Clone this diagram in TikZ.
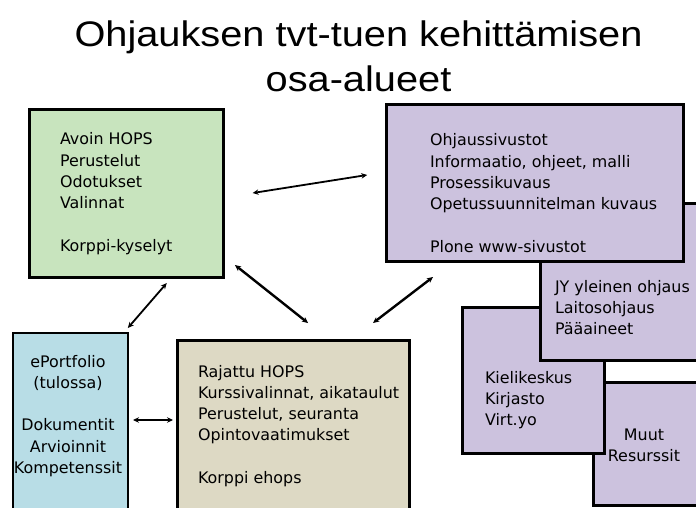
\documentclass[tikz,border=0pt]{standalone}
\usepackage{fontspec}
\usepackage{graphicx}
\setmainfont{DejaVu Sans}
\newfontfamily\titlefont{Liberation Sans}
\usetikzlibrary{arrows.meta}
\definecolor{boxgreen}{RGB}{200,228,190}
\definecolor{boxpurple}{RGB}{204,194,222}
\definecolor{boxblue}{RGB}{184,221,230}
\definecolor{boxbeige}{RGB}{221,217,196}
\begin{document}
\begin{tikzpicture}[x=1pt,y=-1pt,
  box/.style={draw=black, line width=3pt, inner sep=0pt, outer sep=0pt, anchor=north west},
  txt/.style={inner sep=0pt, outer sep=0pt, font=\fontsize{15.9}{21.3}\selectfont},
  link/.style={{Stealth[length=6pt,width=5.5pt]}-{Stealth[length=6pt,width=5.5pt]}, line width=1.8pt}]
\fill[white] (0,0) rectangle (696,508);
\clip (0,0) rectangle (696,508);
% title
\node[inner sep=0pt, anchor=base] (title) at (358.5,47)
  {\titlefont\fontsize{35.5}{45}\selectfont\scalebox{1.12}[1]{\begin{tabular}[t]{@{}c@{}}Ohjauksen tvt-tuen kehittämisen\\osa-alueet\end{tabular}}};
% purple stack (bottom to top)
\node[box, fill=boxpurple, minimum width=127pt, minimum height=123pt] (muut) at (593,382) {};
\node[txt, anchor=base] (muuttext) at (644,440) {\begin{tabular}[t]{@{}c@{}}Muut\\Resurssit\end{tabular}};
\node[box, fill=boxpurple, minimum width=142pt, minimum height=146pt] (kieli) at (462,307) {};
\node[txt, anchor=base west] (kielitext) at (485,383) {\begin{tabular}[t]{@{}l@{}}Kielikeskus\\Kirjasto\\Virt.yo\end{tabular}};
\node[box, fill=boxpurple, minimum width=180pt, minimum height=157pt] (jy) at (540,203) {};
\node[txt, anchor=base west] (jytext) at (555,292) {\begin{tabular}[t]{@{}l@{}}JY yleinen ohjaus\\Laitosohjaus\\Pääaineet\end{tabular}};
\node[box, fill=boxpurple, minimum width=297pt, minimum height=156pt] (ohj) at (386,105) {};
\node[txt, anchor=base west] (ohjtext) at (430,146) {\begin{tabular}[t]{@{}l@{}}Ohjaussivustot\\Informaatio, ohjeet, malli\\Prosessikuvaus\\Opetussuunnitelman kuvaus\\ \\Plone www-sivustot\end{tabular}};
% green
\node[box, fill=boxgreen, minimum width=194pt, minimum height=167pt] (avoin) at (29,110) {};
\node[txt, anchor=base west] (avointext) at (60,145) {\begin{tabular}[t]{@{}l@{}}Avoin HOPS\\Perustelut\\Odotukset\\Valinnat\\ \\Korppi-kyselyt\end{tabular}};
% blue
\node[box, line width=1.6pt, fill=boxblue, minimum width=115pt, minimum height=187pt] (eport) at (13,333) {};
\node[txt, anchor=base] (eporttext) at (68,367) {\begin{tabular}[t]{@{}c@{}}ePortfolio\\(tulossa)\\ \\Dokumentit\\Arvioinnit\\Kompetenssit\end{tabular}};
% beige
\node[box, fill=boxbeige, minimum width=232pt, minimum height=180pt] (rajattu) at (177,340) {};
\node[txt, anchor=base west] (rajattutext) at (198,377) {\begin{tabular}[t]{@{}l@{}}Rajattu HOPS\\Kurssivalinnat, aikataulut\\Perustelut, seuranta\\Opintovaatimukset\\ \\Korppi ehops\end{tabular}};
% connectors
\draw[link, shorten <=30pt, shorten >=19pt] ([yshift=-4.2pt]avoin.east) -- ([yshift=11pt]ohj.west);
\draw[link, shorten <=8pt, shorten >=6.6pt] ([xshift=46pt]avoin.south) -- ([xshift=53pt]eport.north);
\draw[link, line width=2.4pt, shorten <=15.3pt, shorten >=27.3pt] ([yshift=-62pt]avoin.east) -- ([xshift=36.4pt]rajattu.north);
\draw[link, line width=2.4pt, shorten <=26.3pt, shorten >=28pt] ([xshift=-80.6pt]ohj.south) -- ([xshift=57.8pt]rajattu.north);
\draw[link, shorten <=5pt, shorten >=4pt] ([yshift=6.5pt]eport.east) -- ([yshift=10pt]rajattu.west);
\end{tikzpicture}
\end{document}
